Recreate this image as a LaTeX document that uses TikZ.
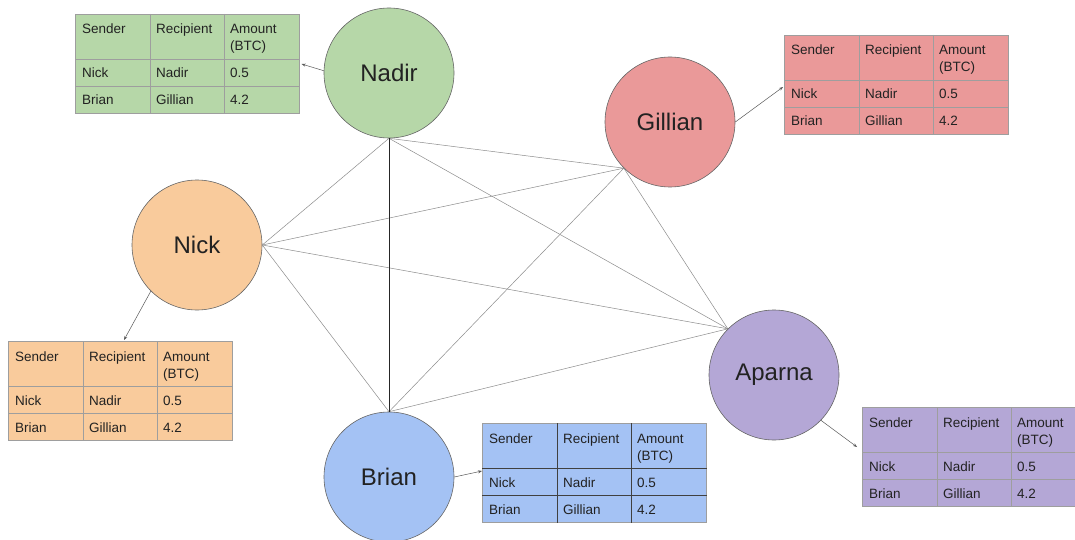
\documentclass[tikz,border=0pt]{standalone}
\usepackage{fontspec}
\setmainfont{Liberation Sans}
\usetikzlibrary{calc,arrows.meta}
\definecolor{cgreen}{HTML}{B6D7A8}
\definecolor{cred}{HTML}{EA9999}
\definecolor{corange}{HTML}{F9CB9C}
\definecolor{cblue}{HTML}{A4C2F4}
\definecolor{cpurple}{HTML}{B4A7D6}
\definecolor{edgegray}{HTML}{8C8C8C}
\definecolor{tblgray}{HTML}{9E9E9E}
\definecolor{txtdark}{HTML}{222222}
\tikzset{
  person/.style={circle, draw=black!60, line width=0.6pt, minimum size=130pt, inner sep=0pt,
    font=\fontsize{24}{28}\selectfont, text=txtdark},
  tbl/.style={rectangle, draw=tblgray, line width=0.6pt, minimum width=224pt, minimum height=99pt, inner sep=0pt},
  cell/.style={anchor=base west, inner sep=0pt, font=\fontsize{13.5}{16}\selectfont, text=txtdark},
  edge/.style={draw=edgegray, line width=0.5pt},
  strongedge/.style={draw=black!85, line width=0.9pt},
  arr/.style={draw=black!65, line width=0.5pt, -{Stealth[length=4pt,width=3pt]}}
}
\newcommand\txtable[5]{%
  \node[tbl, fill=#4, anchor=north west] (#1) at (#2,#3) {};
  \draw[draw=#5, line width=0.6pt] ($(#1.north west)+(75,0)$) -- ($(#1.south west)+(75,0)$);
  \draw[draw=#5, line width=0.6pt] ($(#1.north west)+(149,0)$) -- ($(#1.south west)+(149,0)$);
  \draw[draw=#5, line width=0.6pt] ($(#1.north west)+(0,45)$) -- ($(#1.north east)+(0,45)$);
  \draw[draw=#5, line width=0.6pt] ($(#1.north west)+(0,72)$) -- ($(#1.north east)+(0,72)$);
  \node[cell] (#1-h1) at ($(#1.north west)+(7,20)$) {Sender};
  \node[cell] (#1-h2) at ($(#1.north west)+(81,20)$) {Recipient};
  \node[cell] (#1-h3) at ($(#1.north west)+(155,20)$) {Amount};
  \node[cell] (#1-h4) at ($(#1.north west)+(155,37)$) {(BTC)};
  \node[cell] (#1-a1) at ($(#1.north west)+(7,64)$) {Nick};
  \node[cell] (#1-a2) at ($(#1.north west)+(81,64)$) {Nadir};
  \node[cell] (#1-a3) at ($(#1.north west)+(155,64)$) {0.5};
  \node[cell] (#1-b1) at ($(#1.north west)+(7,91)$) {Brian};
  \node[cell] (#1-b2) at ($(#1.north west)+(81,91)$) {Gillian};
  \node[cell] (#1-b3) at ($(#1.north west)+(155,91)$) {4.2};
}
\begin{document}
\begin{tikzpicture}[x=1pt,y=-1pt]
\useasboundingbox[fill=white] (0,0) rectangle (1075,540);
% persons
\node[person, fill=cgreen] (nadir) at (389,73) {Nadir};
\node[person, fill=cred] (gillian) at (670,122) {Gillian};
\node[person, fill=corange] (nick) at (197,245) {Nick};
\node[person, fill=cblue] (brian) at (389,477) {Brian};
\node[person, fill=cpurple] (aparna) at (774,375) {Aparna};
% junction points
\coordinate (jn) at (nadir.south);
\coordinate (jk) at (nick.east);
\coordinate (jg) at (gillian.225);
\coordinate (ja) at (aparna.135);
\coordinate (jb) at (brian.north);
% edges
\draw[edge] (jn) -- (jk);
\draw[edge] (jn) -- (jg);
\draw[edge] (jn) -- (ja);
\draw[edge] (jk) -- (jg);
\draw[edge] (jk) -- (ja);
\draw[edge] (jk) -- (jb);
\draw[edge] (jg) -- (ja);
\draw[edge] (jg) -- (jb);
\draw[edge] (ja) -- (jb);
\draw[strongedge] (jn) -- (jb);
% tables
\txtable{tnadir}{75}{14}{cgreen}{tblgray}
\txtable{tgillian}{784}{35}{cred}{tblgray}
\txtable{tnick}{8}{341}{corange}{tblgray}
\txtable{tbrian}{482}{423}{cblue}{black!75}
\txtable{taparna}{862}{407}{cpurple}{tblgray}
% ledger arrows
\coordinate (enadir) at ($(tnadir.north east)+(2,50)$);
\coordinate (egillian) at ($(tgillian.north west)+(-1,52)$);
\coordinate (enick) at ($(tnick.north west)+(116,-1)$);
\coordinate (ebrian) at ($(tbrian.north west)+(0,48)$);
\coordinate (eaparna) at ($(taparna.north west)+(-5,40)$);
\draw[arr] (nadir.178) -- (enadir);
\draw[arr] (gillian.east) -- (egillian);
\draw[arr] (nick.225) -- (enick);
\draw[arr] (brian.east) -- (ebrian);
\draw[arr] (aparna.316) -- (eaparna);
\end{tikzpicture}
\end{document}
